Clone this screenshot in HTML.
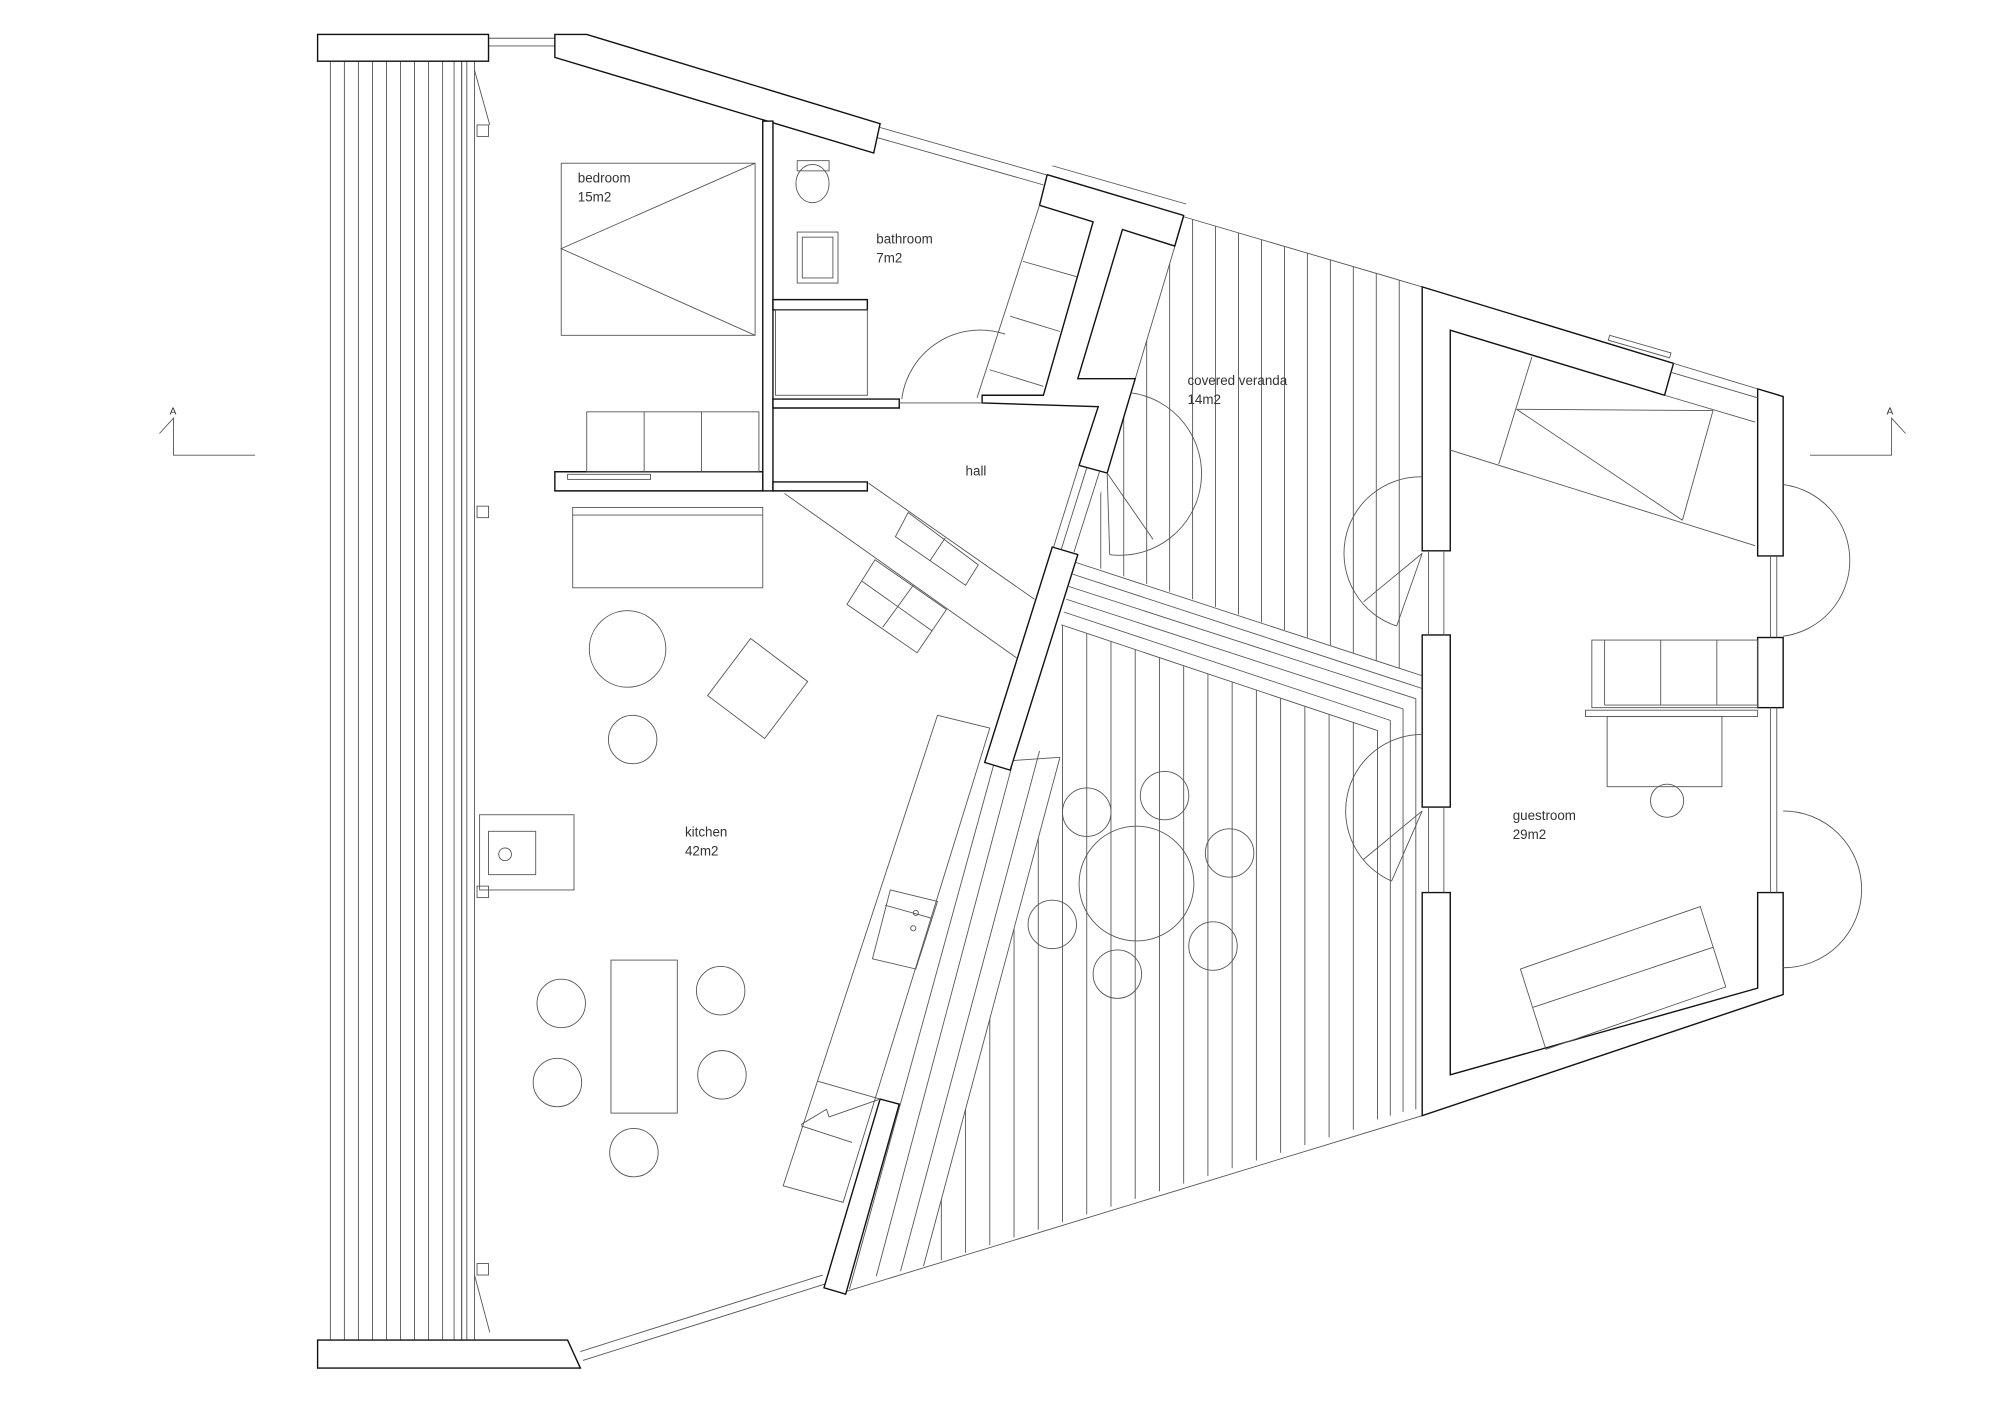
<!DOCTYPE html>
<html><head><meta charset="utf-8"><style>
html,body{margin:0;padding:0;background:#fff;}
svg{display:block;}
text{font-family:"Liberation Sans",sans-serif;font-size:10.5px;fill:#333;}
</style></head><body>
<svg width="2000" height="1414" viewBox="0 0 1568 1109" preserveAspectRatio="none" xmlns="http://www.w3.org/2000/svg">
<defs>
<clipPath id="vtop"><polygon points="928,170 1115,225 1115,530 845,440 868,371 890,297"/></clipPath>
<clipPath id="vbot"><polygon points="832,490 1080,573 1080,880 724,993 831,594"/></clipPath>
<clipPath id="deck"><rect x="255" y="48" width="108" height="1003"/></clipPath>
</defs>
<g fill="none" stroke="#555" stroke-width="0.7">
<g clip-path="url(#deck)">
<line x1="259" y1="48" x2="259" y2="1051"/><line x1="270" y1="48" x2="270" y2="1051"/><line x1="281" y1="48" x2="281" y2="1051"/><line x1="292" y1="48" x2="292" y2="1051"/><line x1="303" y1="48" x2="303" y2="1051"/><line x1="314" y1="48" x2="314" y2="1051"/><line x1="325" y1="48" x2="325" y2="1051"/><line x1="336" y1="48" x2="336" y2="1051"/><line x1="347" y1="48" x2="347" y2="1051"/><line x1="356" y1="48" x2="356" y2="1051"/>
</g>
<line x1="362" y1="48" x2="362" y2="1051" stroke="#222"/>
<line x1="366" y1="48" x2="366" y2="1051"/>
<line x1="372" y1="48" x2="372" y2="1051"/>
<rect x="374" y="98" width="9" height="9"/><rect x="374" y="397" width="9" height="9"/><rect x="374" y="695" width="9" height="9"/><rect x="374" y="991" width="9" height="9"/>
<line x1="372" y1="55" x2="384" y2="98"/><line x1="372" y1="1000" x2="384" y2="1045"/>
<line x1="383" y1="30" x2="435" y2="30"/><line x1="383" y1="36" x2="435" y2="36"/>
<line x1="690" y1="100" x2="820" y2="137"/><line x1="688" y1="108" x2="818" y2="145"/>
<line x1="825" y1="130" x2="930" y2="160"/>
<line x1="455" y1="1060" x2="645" y2="1000"/><line x1="457" y1="1067" x2="647" y2="1007"/>
<g clip-path="url(#vtop)">
<line x1="935" y1="100" x2="935" y2="600"/><line x1="953" y1="100" x2="953" y2="600"/><line x1="971" y1="100" x2="971" y2="600"/><line x1="989" y1="100" x2="989" y2="600"/><line x1="1007" y1="100" x2="1007" y2="600"/><line x1="1025" y1="100" x2="1025" y2="600"/><line x1="1043" y1="100" x2="1043" y2="600"/><line x1="1061" y1="100" x2="1061" y2="600"/><line x1="1079" y1="100" x2="1079" y2="600"/><line x1="1097" y1="100" x2="1097" y2="600"/><line x1="917" y1="100" x2="917" y2="600"/><line x1="899" y1="100" x2="899" y2="600"/><line x1="881" y1="100" x2="881" y2="600"/><line x1="863" y1="100" x2="863" y2="600"/>
</g>
<line x1="928" y1="170" x2="1115" y2="225"/>
<line x1="928" y1="170" x2="868" y2="371"/>
<g clip-path="url(#vbot)">
<line x1="700" y1="400" x2="700" y2="1100"/><line x1="719" y1="400" x2="719" y2="1100"/><line x1="738" y1="400" x2="738" y2="1100"/><line x1="757" y1="400" x2="757" y2="1100"/><line x1="776" y1="400" x2="776" y2="1100"/><line x1="795" y1="400" x2="795" y2="1100"/><line x1="814" y1="400" x2="814" y2="1100"/><line x1="833" y1="400" x2="833" y2="1100"/><line x1="852" y1="400" x2="852" y2="1100"/><line x1="871" y1="400" x2="871" y2="1100"/><line x1="890" y1="400" x2="890" y2="1100"/><line x1="909" y1="400" x2="909" y2="1100"/><line x1="928" y1="400" x2="928" y2="1100"/><line x1="947" y1="400" x2="947" y2="1100"/><line x1="966" y1="400" x2="966" y2="1100"/><line x1="985" y1="400" x2="985" y2="1100"/><line x1="1004" y1="400" x2="1004" y2="1100"/><line x1="1023" y1="400" x2="1023" y2="1100"/><line x1="1042" y1="400" x2="1042" y2="1100"/><line x1="1061" y1="400" x2="1061" y2="1100"/>
</g>
<line x1="663" y1="1013" x2="1115" y2="875"/>
<polyline points="840,440 1115,530"/>
<polyline points="840,450 1115,540"/>
<polyline points="838,460 1110,548 1110,870"/>
<polyline points="836,470 1100,556 1100,872"/>
<polyline points="834,480 1090,565 1090,875"/>
<polyline points="832,490 1080,573 1080,878"/>
<line x1="772" y1="598" x2="831" y2="594"/>
<line x1="779" y1="600" x2="666" y2="1011"/>
<line x1="793" y1="602" x2="687" y2="1001"/>
<line x1="815" y1="589" x2="706" y2="997"/>
<line x1="831" y1="594" x2="724" y2="993"/>
<polyline points="125,340 136,328 136,357 200,357"/>
<polyline points="1494,340 1483,328 1483,357 1419,357"/>
</g>
<text x="133" y="325" style="font-size:8px">A</text>
<text x="1479" y="325" style="font-size:8px">A</text>

<g fill="#fff" stroke="#111" stroke-width="1.1">
<rect x="249" y="27" width="134" height="21"/>
<polygon points="249,1051 445,1051 455,1073 249,1073"/>
<polygon points="435,27 460,27 690,97 685,120 435,45"/>
<polygon points="821,137 928,169 921,193 880,180 845,297 890,297 868,371 846,365 861,319 770,316 770,310 818,310 857,174 815,161"/>
<polygon points="825,429 845,435 792,604 772,598"/>
<polygon points="690,862 705,866 663,1015 646,1010"/>
<rect x="598" y="95" width="8" height="290"/>
<polygon points="606,313 705,313 705,320 606,320"/>
<polygon points="435,370 598,370 598,385 435,385"/>
<polygon points="606,378 680,378 680,385 606,385"/>
<polygon points="606,235 680,235 680,243 606,243"/>
<polygon points="1115,225 1312,285 1305,310 1137,259 1137,432 1115,432"/>
<rect x="1115" y="498" width="22" height="135"/>
<polygon points="1115,700 1137,700 1137,843 1378,775 1378,700 1398,700 1398,780 1115,875"/>
<polygon points="1378,305 1398,311 1398,436 1378,436"/>
<rect x="1378" y="500" width="20" height="55"/>
</g>
<g fill="none" stroke="#555" stroke-width="0.7">
<line x1="1312" y1="285" x2="1378" y2="305"/><line x1="1310" y1="292" x2="1378" y2="312"/>
<rect x="1262" y="263" width="50" height="4" transform="rotate(16 1262 263)"/>
<line x1="1120" y1="432" x2="1120" y2="498"/><line x1="1132" y1="432" x2="1132" y2="498"/>
<line x1="1120" y1="633" x2="1120" y2="700"/><line x1="1132" y1="633" x2="1132" y2="700"/>
<line x1="1388" y1="436" x2="1388" y2="500"/><line x1="1393" y1="436" x2="1393" y2="500"/>
<line x1="1388" y1="555" x2="1388" y2="700"/><line x1="1393" y1="555" x2="1393" y2="700"/>
<line x1="846" y1="365" x2="826" y2="429"/><line x1="852" y1="367" x2="832" y2="431"/><line x1="862" y1="370" x2="842" y2="433"/>
<line x1="705" y1="316" x2="770" y2="316"/>
<path d="M1115,374 A60,60 0 0 0 1095,491"/>
<line x1="1115" y1="434" x2="1069" y2="472"/><line x1="1115" y1="434" x2="1095" y2="491"/>
<path d="M1115,576 A60,60 0 0 0 1091,691"/>
<line x1="1115" y1="636" x2="1069" y2="674"/><line x1="1115" y1="636" x2="1091" y2="691"/>
<path d="M1398,380 A60,60 0 0 1 1398,499"/>
<path d="M1398,636 A61,61 0 0 1 1398,759"/>
<path d="M886,308 A64,64 0 0 1 870,435"/>
<line x1="868" y1="371" x2="904" y2="423"/><line x1="868" y1="371" x2="870" y2="435"/>
<path d="M707,313 A62,62 0 0 1 788,262"/>
<ellipse cx="637" cy="144" rx="13" ry="15"/>
<rect x="625" y="126" width="25" height="8"/>
<rect x="625" y="182" width="32" height="40"/>
<rect x="629" y="186" width="24" height="32"/>
<rect x="608" y="243" width="72" height="67"/>
<rect x="440" y="128" width="152" height="135"/>
<polyline points="592,128 440,195 592,263"/>
<rect x="460" y="323" width="135" height="47"/>
<line x1="505" y1="323" x2="505" y2="370"/><line x1="550" y1="323" x2="550" y2="370"/>
<rect x="445" y="372" width="65" height="4"/>
<rect x="449" y="398" width="149" height="63"/>
<line x1="449" y1="404" x2="598" y2="404"/>
<circle cx="492" cy="509" r="30"/>
<circle cx="496" cy="580" r="19"/>
<rect x="566" y="512" width="56" height="56" transform="rotate(37 594 540)"/>
<line x1="615" y1="387" x2="797" y2="516"/>
<line x1="681" y1="379" x2="811" y2="470"/>
<polygon points="712,402 702,421 757,459 767,443"/>
<line x1="729" y1="440" x2="741" y2="422"/>
<polygon points="686,439 664,474 719,512 742,478"/>
<line x1="716" y1="459" x2="692" y2="492"/>
<line x1="676" y1="456" x2="731" y2="495"/>
<rect x="376" y="639" width="74" height="59"/>
<rect x="383" y="652" width="37" height="34"/>
<circle cx="396" cy="670" r="5"/>
<rect x="479" y="753" width="52" height="120"/>
<circle cx="440" cy="787" r="19"/><circle cx="565" cy="777" r="19"/>
<circle cx="437" cy="849" r="19"/><circle cx="566" cy="843" r="19"/>
<circle cx="497" cy="904" r="19"/>
<polygon points="735,561 776,571 661,943 614,930"/>
<polygon points="698,698 735,707 718,760 684,752"/>
<line x1="694" y1="710" x2="730" y2="720"/>
<circle cx="718" cy="716" r="2"/><circle cx="716" cy="728" r="2"/>
<line x1="641" y1="848" x2="690" y2="862"/>
<polyline points="690,862 650,876 648,870 628,882"/>
<line x1="628" y1="883" x2="668" y2="896"/>
<circle cx="891" cy="693" r="45"/>
<circle cx="852" cy="637" r="19"/><circle cx="913" cy="624" r="19"/>
<circle cx="964" cy="669" r="19"/><circle cx="825" cy="725" r="19"/>
<circle cx="951" cy="742" r="19"/><circle cx="876" cy="764" r="19"/>
<line x1="815" y1="161" x2="766" y2="312"/>
<line x1="802" y1="205" x2="844" y2="217"/>
<line x1="792" y1="248" x2="831" y2="260"/>
<line x1="776" y1="290" x2="818" y2="303"/>
<line x1="1137" y1="353" x2="1376" y2="428"/>
<line x1="1305" y1="310" x2="1376" y2="331"/>
<line x1="1201" y1="280" x2="1175" y2="364"/>
<line x1="1189" y1="321" x2="1343" y2="322"/>
<line x1="1343" y1="322" x2="1319" y2="408"/>
<line x1="1189" y1="321" x2="1319" y2="408"/>
<rect x="1248" y="502" width="130" height="53"/>
<line x1="1258" y1="502" x2="1258" y2="553"/>
<line x1="1302" y1="502" x2="1302" y2="553"/><line x1="1346" y1="502" x2="1346" y2="553"/>
<line x1="1258" y1="553" x2="1378" y2="553"/>
<rect x="1243" y="557" width="135" height="5"/>
<rect x="1260" y="562" width="90" height="55"/>
<circle cx="1307" cy="628" r="13"/>
<polygon points="1192,760 1333,711 1353,774 1212,823"/>
<line x1="1202" y1="790" x2="1343" y2="743"/>
</g>
<text x="453" y="143">bedroom</text><text x="453" y="158">15m2</text>
<text x="687" y="191">bathroom</text><text x="687" y="206">7m2</text>
<text x="757" y="373">hall</text>
<text x="931" y="302">covered veranda</text><text x="931" y="317">14m2</text>
<text x="537" y="656">kitchen</text><text x="537" y="671">42m2</text>
<text x="1186" y="643">guestroom</text><text x="1186" y="658">29m2</text>
</svg>
</body></html>
